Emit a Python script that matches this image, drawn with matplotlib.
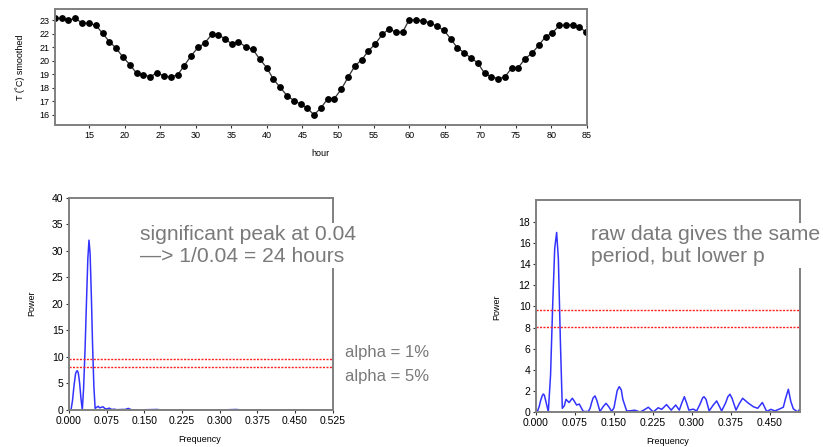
import matplotlib
matplotlib.use("Agg")
import matplotlib.pyplot as plt

plt.rcParams["font.family"] = ["Liberation Sans", "DejaVu Sans"]

# Smoothed temperature series (top panel)
hours = [
    10.17, 11.12, 12.06, 13.00, 13.97, 15.00, 15.94, 16.88, 17.80, 18.76,
    19.74, 20.73, 21.67, 22.60, 23.58, 24.53, 25.50, 26.45, 27.44, 28.37,
    29.30, 30.30, 31.24, 32.22, 33.15, 34.10, 35.04, 35.97, 37.05, 38.00,
    38.98, 39.96, 40.90, 41.84, 42.82, 43.81, 44.75, 45.68, 46.62, 47.60,
    48.55, 49.48, 50.47, 51.45, 52.39, 53.33, 54.26, 55.25, 56.23, 57.18,
    58.12, 59.10, 59.99, 60.98, 62.00, 62.95, 63.93, 64.92, 65.86, 66.79,
    67.78, 68.72, 69.66, 70.64, 71.57, 72.51, 73.46, 74.44, 75.37, 76.36,
    77.30, 78.28, 79.22, 80.15, 81.14, 82.08, 83.03, 83.96, 84.90,
]
temp_smoothed = [
    23.18, 23.15, 23.00, 23.18, 22.80, 22.80, 22.63, 22.04, 21.44, 20.95,
    20.28, 19.71, 19.07, 18.99, 18.82, 19.14, 18.87, 18.80, 18.97, 19.66,
    20.36, 21.00, 21.32, 21.96, 21.91, 21.66, 21.25, 21.44, 21.02, 20.87,
    20.13, 19.51, 18.65, 18.05, 17.43, 17.06, 16.79, 16.50, 16.00, 16.52,
    17.19, 17.21, 17.91, 18.82, 19.64, 20.08, 20.73, 21.27, 21.96, 22.38,
    22.14, 22.14, 23.03, 23.03, 22.98, 22.81, 22.58, 22.26, 21.64, 20.97,
    20.60, 20.21, 19.86, 19.07, 18.84, 18.69, 18.80, 19.47, 19.51, 20.18,
    20.58, 21.17, 21.81, 22.06, 22.63, 22.66, 22.68, 22.51, 22.14,
]

# Periodogram of the smoothed series (bottom left)
freq_smooth = [
    0.000, 0.004, 0.007, 0.010, 0.013, 0.0150, 0.0166, 0.0185, 0.021, 0.024,
    0.0265, 0.029, 0.032, 0.035, 0.0375, 0.0398, 0.042, 0.0445, 0.047, 0.0495,
    0.052, 0.055, 0.058, 0.061, 0.064, 0.068, 0.071, 0.075, 0.080, 0.085,
    0.090, 0.095, 0.105, 0.112, 0.118, 0.124, 0.140, 0.175, 0.185, 0.300,
    0.333, 0.345, 0.525,
]
power_smooth = [
    0.0, 0.0, 1.8, 4.6, 6.8, 7.3, 7.4, 7.0, 5.2, 2.0,
    0.0, 4.0, 11.5, 21.0, 28.5, 32.0, 29.5, 21.5, 12.0, 4.5,
    0.3, 0.5, 0.7, 0.4, 0.5, 0.6, 0.3, 0.2, 0.35, 0.1,
    0.15, 0.05, 0.1, 0.1, 0.3, 0.05, 0.02, 0.1, 0.0, 0.0,
    0.1, 0.0, 0.0,
]

# Periodogram of the raw series (bottom right)
freq_raw = [
    0.000, 0.0026, 0.006, 0.009, 0.0120, 0.0141, 0.016, 0.019, 0.0237, 0.028,
    0.032, 0.036, 0.0397, 0.043, 0.047, 0.0506, 0.0545, 0.0577, 0.0635, 0.0699,
    0.074, 0.078, 0.0833, 0.087, 0.091, 0.1006, 0.104, 0.107, 0.110, 0.1135,
    0.117, 0.123, 0.129, 0.1346, 0.140, 0.1455, 0.150, 0.153, 0.156, 0.160,
    0.164, 0.167, 0.1744, 0.182, 0.190, 0.200, 0.208, 0.216, 0.2256, 0.235,
    0.2417, 0.251, 0.260, 0.2686, 0.2756, 0.280, 0.2853, 0.290, 0.294, 0.3026,
    0.309, 0.316, 0.320, 0.323, 0.327, 0.333, 0.340, 0.3474, 0.352, 0.357,
    0.365, 0.369, 0.373, 0.377, 0.3846, 0.391, 0.3974, 0.408, 0.418, 0.4263,
    0.4353, 0.4436, 0.4519, 0.4596, 0.469, 0.4756, 0.480, 0.4853, 0.490, 0.4949,
    0.5032, 0.5077,
]
power_raw = [
    0.0, 0.05, 0.5, 1.1, 1.55, 1.7, 1.6, 1.0, 0.03, 3.5,
    10.0, 15.5, 17.0, 14.5, 6.5, 0.35, 0.6, 1.2, 0.9, 1.3,
    1.0, 0.66, 0.75, 0.4, 0.05, 0.05, 0.35, 0.9, 1.35, 1.52,
    1.1, 0.05, 0.5, 0.82, 0.5, 0.05, 0.4, 1.2, 2.0, 2.4,
    2.1, 1.2, 0.1, 0.12, 0.17, 0.0, 0.2, 0.45, 0.0, 0.4,
    0.25, 0.7, 0.18, 0.66, 0.18, 0.8, 1.45, 0.8, 0.18, 0.27,
    0.1, 0.8, 1.3, 1.45, 1.2, 0.1, 0.6, 1.05, 0.6, 0.1,
    0.9, 1.45, 1.68, 1.3, 0.18, 0.8, 1.3, 0.85, 0.5, 0.35,
    0.9, 0.05, 0.25, 0.1, 0.3, 0.45, 1.3, 2.15, 1.0, 0.3,
    0.0, 0.3,
]

# Significance levels (1% and 5%)
alpha_levels = [9.7, 8.05]

W, H = 823, 447
SPINE = "#808080"
GRAY_TEXT = "#7a7a7a"


def px_axes(fig, left, top, right, bottom):
    return fig.add_axes([left / W, 1 - bottom / H, (right - left) / W, (bottom - top) / H])


def style_axes(ax, labelsize):
    for s in ax.spines.values():
        s.set_color(SPINE)
        s.set_linewidth(1.4)
    ax.tick_params(direction="out", length=2.5, width=0.8, color="#333333",
                   labelsize=labelsize, pad=1.5)


fig = plt.figure(figsize=(W / 100, H / 100), dpi=100)

# Top: smoothed temperature
ax = px_axes(fig, 55, 9, 586.7, 125)
ax.plot(hours, temp_smoothed, color="#333333", lw=0.9, marker="o",
        markersize=3.9, markerfacecolor="black", markeredgecolor="black")
ax.set_xlim(10.17, 85)
ax.set_ylim(15.25, 23.85)
ax.set_xticks(range(15, 86, 5))
ax.set_yticks(range(16, 24))
style_axes(ax, 6.5)
fig.text(20 / W, 1 - 67 / H, "T (˚C) smoothed", rotation=90, ha="center", va="center",
         fontsize=6.5)
fig.text(320 / W, 1 - 154 / H, "hour", ha="center", va="center", fontsize=6.5)

# Bottom left: periodogram of smoothed data
ax1 = px_axes(fig, 69, 197.7, 332.7, 410)
ax1.plot(freq_smooth, power_smooth, color="#3333ff", lw=1.1)
for lvl in alpha_levels:
    ax1.axhline(lvl, color="#ff2020", lw=1.0, ls=(0, (1.5, 1)))
ax1.set_xlim(0, 0.525)
ax1.set_ylim(0, 40)
ax1.set_xticks([i * 0.075 for i in range(8)])
ax1.set_xticklabels([f"{i * 0.075:.3f}" for i in range(8)])
ax1.set_yticks(range(0, 41, 5))
style_axes(ax1, 7.5)
fig.text(32 / W, 1 - 303 / H, "Power", rotation=90, ha="center", va="center", fontsize=6.5)
fig.text(200 / W, 1 - 439 / H, "Frequency", ha="center", va="center", fontsize=6.5)

# Bottom right: periodogram of raw data
ax2 = px_axes(fig, 536, 199.7, 800, 412)
ax2.plot(freq_raw, power_raw, color="#3333ff", lw=1.1)
for lvl in alpha_levels:
    ax2.axhline(lvl, color="#ff2020", lw=1.0, ls=(0, (1.5, 1)))
ax2.set_xlim(0, 0.5077)
ax2.set_ylim(0, 20.1)
ax2.set_xticks([i * 0.075 for i in range(7)])
ax2.set_xticklabels([f"{i * 0.075:.3f}" for i in range(7)])
ax2.set_yticks(range(0, 19, 2))
style_axes(ax2, 7.5)
fig.text(497 / W, 1 - 307 / H, "Power", rotation=90, ha="center", va="center", fontsize=6.5)
fig.text(668 / W, 1 - 441 / H, "Frequency", ha="center", va="center", fontsize=6.5)

# Slide annotations
box = dict(facecolor="white", edgecolor="none", pad=2)
fig.text(140 / W, 1 - 245.5 / H, "significant peak at 0.04\n—> 1/0.04 = 24 hours",
         ha="left", va="center", fontsize=15.2, color=GRAY_TEXT, linespacing=1.15,
         bbox=box)
fig.text(591 / W, 1 - 245.5 / H, "raw data gives the same\nperiod, but lower p",
         ha="left", va="center", fontsize=15.2, color=GRAY_TEXT, linespacing=1.15,
         bbox=box)
fig.text(345 / W, 1 - 352 / H, "alpha = 1%", ha="left", va="center", fontsize=12,
         color=GRAY_TEXT)
fig.text(345 / W, 1 - 376 / H, "alpha = 5%", ha="left", va="center", fontsize=12,
         color=GRAY_TEXT)

fig.savefig("out.png", dpi=100)
